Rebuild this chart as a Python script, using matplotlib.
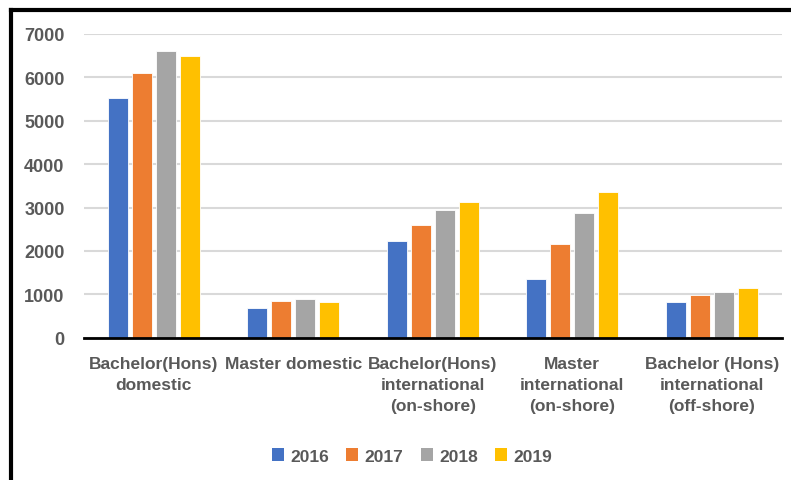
import matplotlib
matplotlib.use("Agg")
import matplotlib.pyplot as plt
import numpy as np
from matplotlib.lines import Line2D
from matplotlib.patches import Patch

categories = ["Bachelor(Hons)\ndomestic", "Master domestic", "Bachelor(Hons)\ninternational\n(on-shore)",
              "Master\ninternational\n(on-shore)", "Bachelor (Hons)\ninternational\n(off-shore)"]
years = ["2016", "2017", "2018", "2019"]
v2016 = [5520, 680, 2220, 1360, 820]
v2017 = [6110, 850, 2600, 2160, 995]
v2018 = [6600, 890, 2940, 2870, 1060]
v2019 = [6490, 815, 3135, 3360, 1140]
colors = ["#4472C4", "#ED7D31", "#A5A5A5", "#FFC000"]
yticks = [0, 1000, 2000, 3000, 4000, 5000, 6000, 7000]

plt.rcParams['font.family'] = ['Liberation Sans', 'DejaVu Sans']
fig = plt.figure(figsize=(7.91, 4.81), dpi=100)
ax = fig.add_axes([84/791, 1-338.7/481, (781.5-84)/791, (338.7-35)/481])

x = np.arange(len(categories))
slot = 0.172
bw = 0.145
series = [v2016, v2017, v2018, v2019]
for i, (vals, c, yr) in enumerate(zip(series, colors, years)):
    ax.bar(x + (i - 1.5) * slot, vals, width=bw, color=c, edgecolor='white', linewidth=0.6, zorder=3, label=yr)

ax.set_xlim(-0.5, len(categories) - 0.5)
ax.set_ylim(0, 7000)
ax.set_yticks(yticks)
ax.set_yticklabels([str(t) for t in yticks], fontsize=13, color='#595959', fontweight='bold')
ax.set_xticks(x)
ax.set_xticklabels(categories, fontsize=12.5, color='#595959', fontweight='bold', linespacing=1.5)
ax.tick_params(axis='both', length=0)
ax.tick_params(axis='y', pad=14)
ax.tick_params(axis='x', pad=13)
ax.grid(axis='y', color='#D9D9D9', linewidth=1.5, zorder=0)
for s in ['top', 'right', 'left']:
    ax.spines[s].set_visible(False)
ax.spines['bottom'].set_color('black')
ax.spines['bottom'].set_linewidth(2)
ax.spines['bottom'].set_zorder(4)

handles = [Patch(facecolor=c, edgecolor='none', label=yr) for c, yr in zip(colors, years)]
leg = fig.legend(handles=handles, loc='center', bbox_to_anchor=(412/791, 1-457/481), ncol=4,
                 frameon=False, handlelength=0.7, handleheight=0.7, handletextpad=0.35,
                 columnspacing=1.0, prop={'size': 12.5, 'weight': 'bold'})
for t in leg.get_texts():
    t.set_color('#595959')

# outer frame lines (top and left)
fig.add_artist(Line2D([11/791, 1], [1-11/481, 1-11/481], color='black', linewidth=3, transform=fig.transFigure))
fig.add_artist(Line2D([11/791, 11/791], [0, 1-11/481], color='black', linewidth=3, transform=fig.transFigure))

fig.savefig("out.png", dpi=100)
